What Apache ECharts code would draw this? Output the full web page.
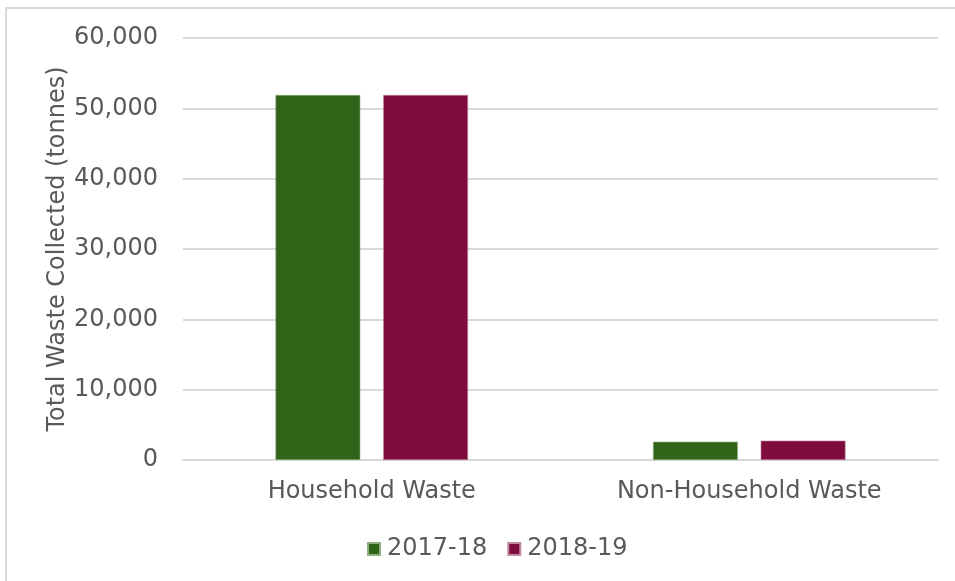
<!DOCTYPE html>
<html>
<head>
<meta charset="utf-8">
<script src="https://cdn.jsdelivr.net/npm/echarts@6/dist/echarts.min.js"></script>
<style>
  html, body { margin: 0; padding: 0; background: #fff; }
  #wrap { position: relative; width: 955px; height: 581px; overflow: hidden; }
  #frame { position: absolute; left: 5px; top: 7px; right: -5px; bottom: -5px;
           border-top: 2px solid #d9d9d9; border-left: 2px solid #d9d9d9; }
  #chart { position: absolute; left: 0; top: 0; width: 955px; height: 581px; }
</style>
</head>
<body>
<div id="wrap">
  <div id="frame"></div>
  <div id="chart"></div>
</div>
<script>
const categories = ['Household Waste', 'Non-Household Waste']
const seriesNames = ['2017-18', '2018-19']
const values2017 = [51900, 2600]
const values2018 = [51900, 2750]
const COLORS = ['#2f6419', '#7e0c3c']

const chart = echarts.init(document.getElementById('chart'))
const font = '"DejaVu Sans", Arial, sans-serif'
const TEXT = '#595959'

chart.setOption({
  animation: false,
  textStyle: { fontFamily: font },
  grid: { left: 183, right: 17, top: 38, bottom: 121 },
  legend: {
    top: 532,
    left: 362,
    itemWidth: 12,
    itemHeight: 12,
    itemGap: 20,
    icon: 'rect',
    textStyle: { fontSize: 24, color: TEXT, fontFamily: font, padding: [0, 0, 0, 2] },
    data: seriesNames,
  },
  xAxis: {
    type: 'category',
    data: categories,
    axisTick: { show: false },
    axisLine: { lineStyle: { color: '#d9d9d9', width: 2 } },
    axisLabel: { fontSize: 24, color: TEXT, margin: 20, fontFamily: font },
  },
  yAxis: {
    type: 'value',
    min: 0,
    max: 60000,
    interval: 10000,
    name: 'Total Waste Collected (tonnes)',
    nameLocation: 'middle',
    nameMoveOverlap: false,
    nameGap: 113,
    nameTextStyle: { fontSize: 24, color: TEXT, fontFamily: font },
    axisLabel: {
      fontSize: 24, color: TEXT, margin: 25, fontFamily: font,
      formatter: v => v.toLocaleString('en-US'),
    },
    splitLine: { lineStyle: { color: '#d9d9d9', width: 2 } },
  },
  series: [
    {
      name: seriesNames[0],
      type: 'bar',
      data: values2017,
      barGap: '27%',
      barCategoryGap: '49%',
      itemStyle: { color: COLORS[0], borderColor: '#8fae80', borderWidth: 0.6 },
    },
    {
      name: seriesNames[1],
      type: 'bar',
      data: values2018,
      itemStyle: { color: COLORS[1], borderColor: '#c08aa0', borderWidth: 0.6 },
    },
  ],
})
</script>
</body>
</html>
